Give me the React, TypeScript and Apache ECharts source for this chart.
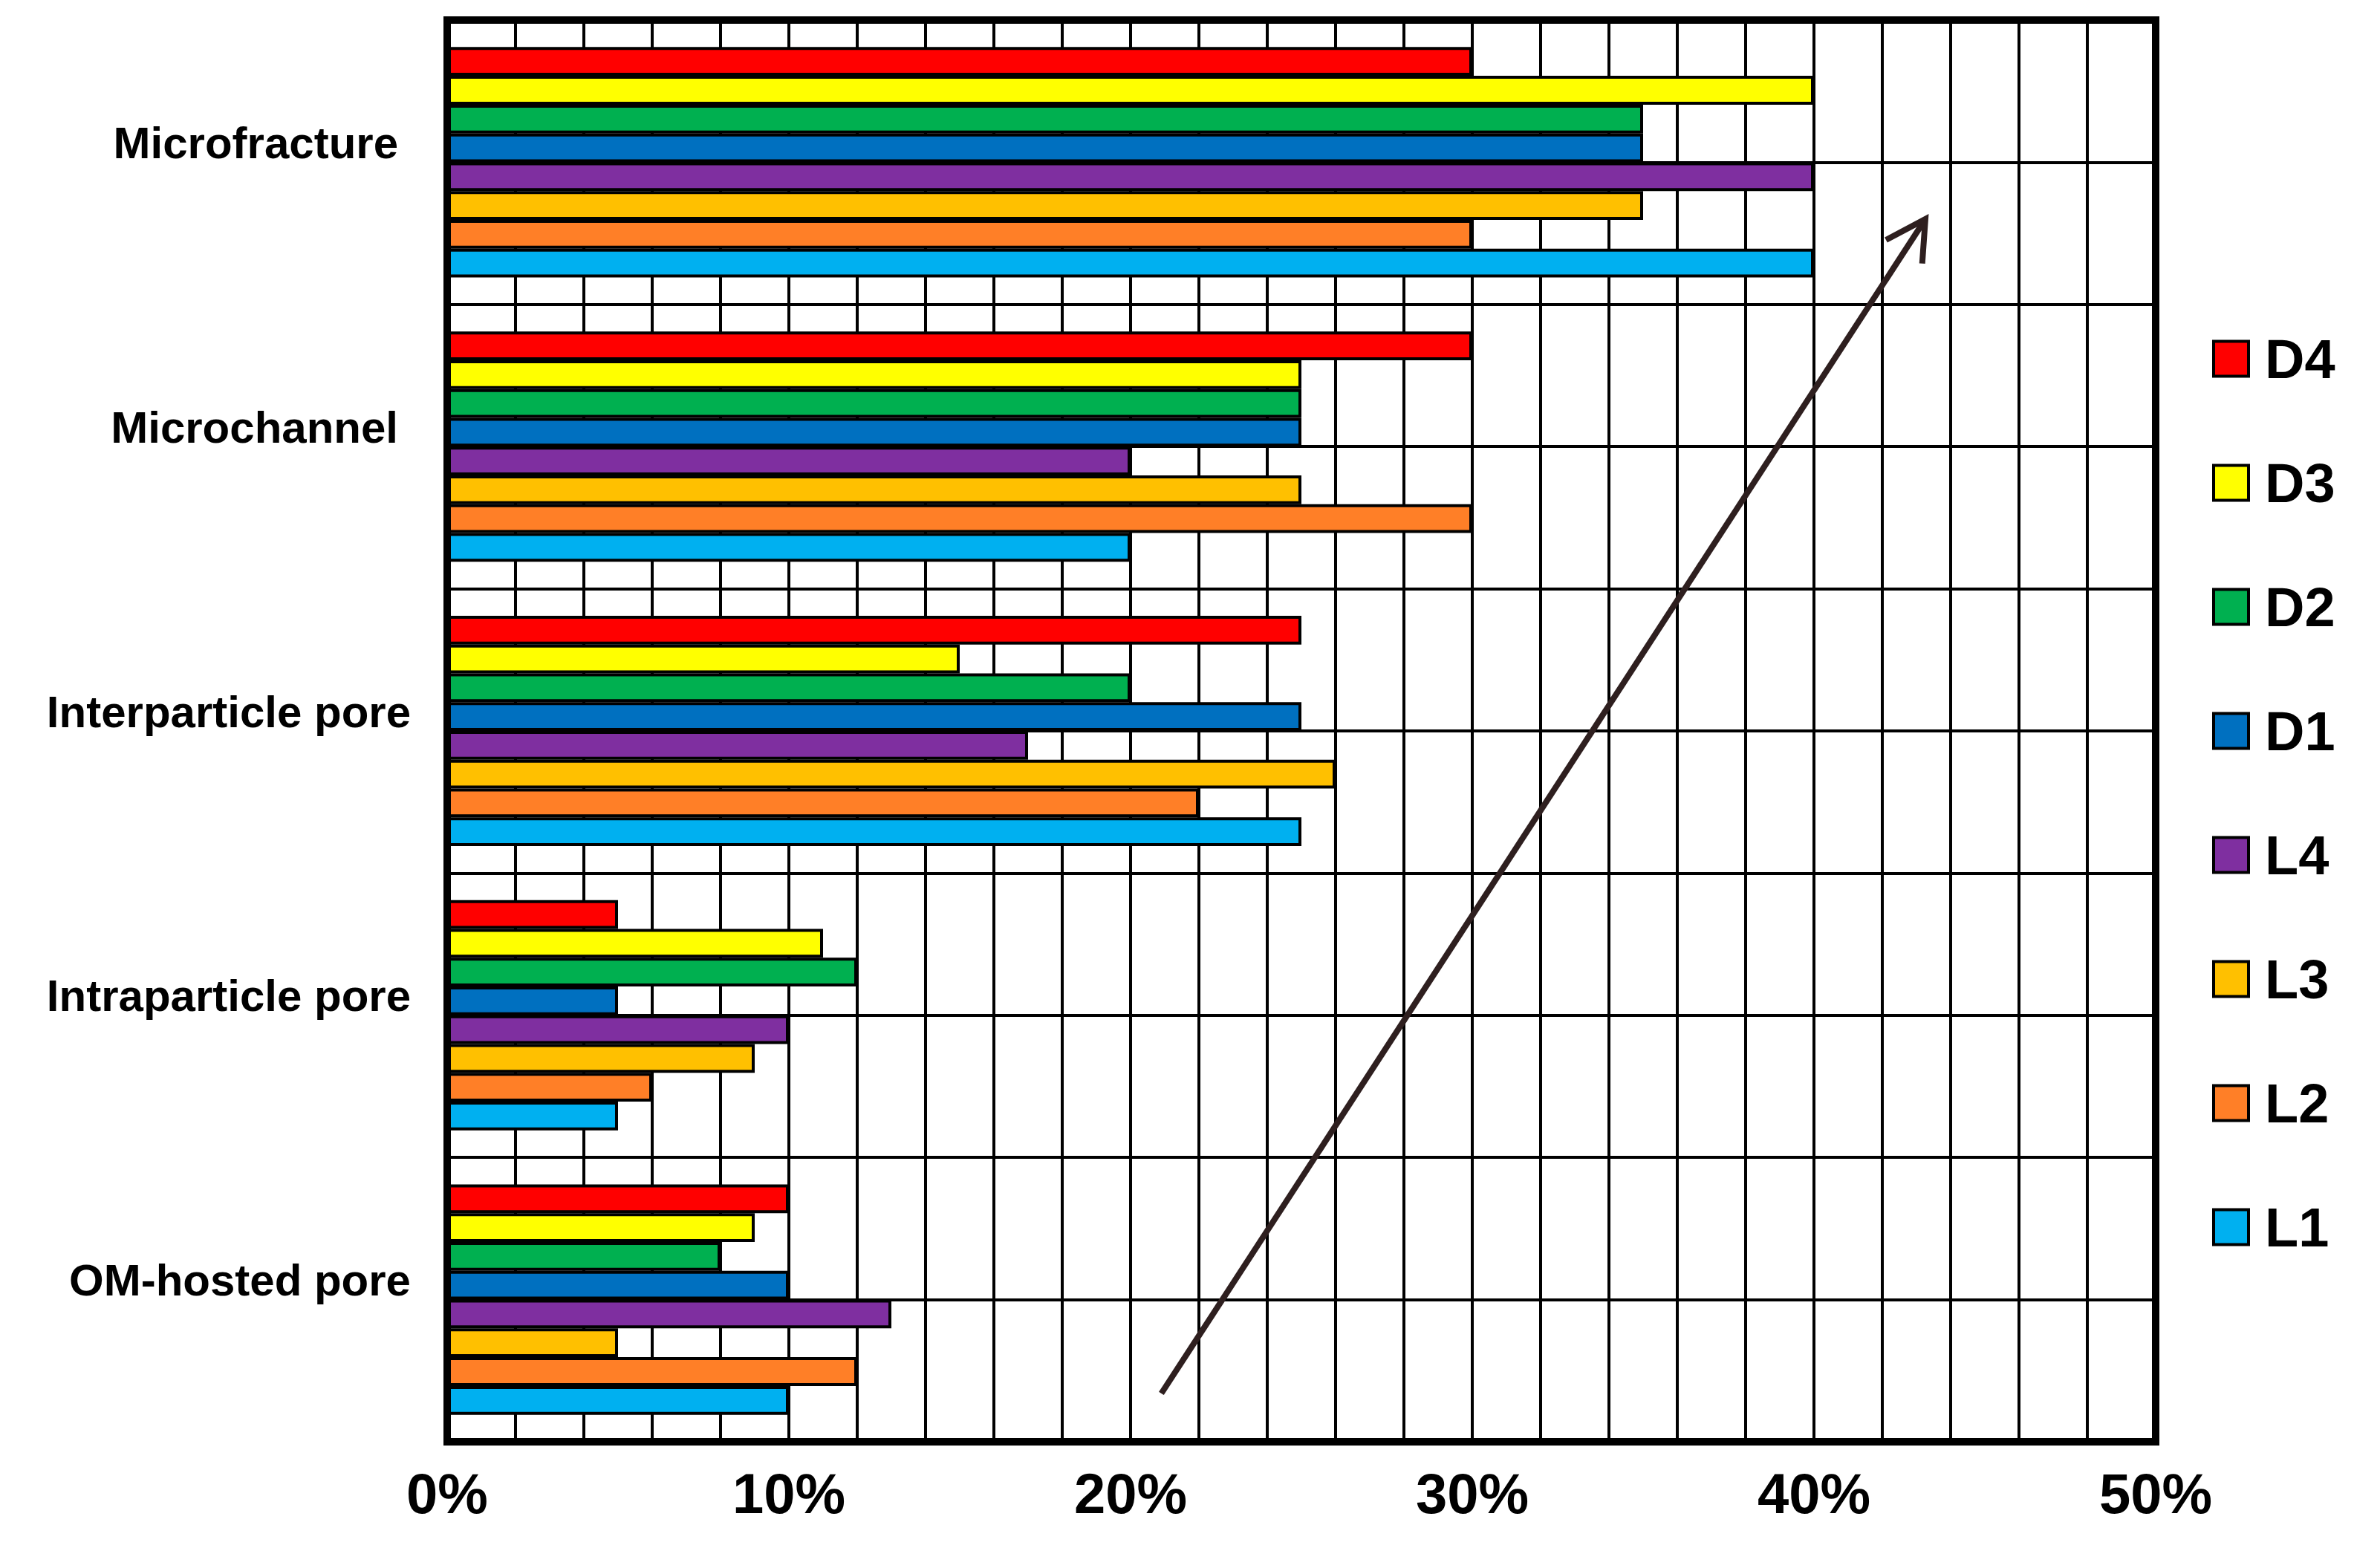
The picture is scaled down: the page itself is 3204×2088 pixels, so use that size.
import React, { useEffect, useRef } from "react";
import * as echarts from "echarts";

const categories = ["Microfracture", "Microchannel", "Interparticle pore", "Intraparticle pore", "OM-hosted pore"];
const seriesNames = ["D4", "D3", "D2", "D1", "L4", "L3", "L2", "L1"];
const seriesColors = ["#FF0000", "#FFFF00", "#00B050", "#0070C0", "#7F2FA0", "#FFC000", "#FF7F27", "#00B0F0"];
const D4 = [30, 30, 25, 5, 10];
const D3 = [40, 25, 15, 11, 9];
const D2 = [35, 25, 20, 12, 8];
const D1 = [35, 25, 25, 5, 10];
const L4 = [40, 20, 17, 10, 13];
const L3 = [35, 25, 26, 9, 5];
const L2 = [30, 30, 22, 6, 12];
const L1 = [40, 20, 25, 5, 10];
const seriesValues = [D4, D3, D2, D1, L4, L3, L2, L1];
const xTickLabels = ["0%", "10%", "20%", "30%", "40%", "50%"];
// trend arrow in data coordinates: [x1 (%), y1 (row units), x2 (%), y2 (row units)]
const arrowData = [[20.9, 0.34, 43.26, 8.6]];
const paddedLabels = ["Microfracture", "Microchannel"];

const FONT = "'Liberation Sans', Arial, Helvetica, sans-serif";

export default function App() {
  const ref = useRef<HTMLDivElement>(null);
  useEffect(() => {
    document.body.style.margin = "0";
    const chart = echarts.init(ref.current!, null, { renderer: "svg" });
    const bars = seriesNames.map((name, i) => ({
      name,
      type: "bar",
      xAxisIndex: 0,
      yAxisIndex: 0,
      data: seriesValues[i],
      barGap: "0%",
      barCategoryGap: "19%",
      itemStyle: { color: seriesColors[i], borderColor: "#000", borderWidth: 4 },
      z: 3,
    }));
    const option: any = {
      animation: false,
      backgroundColor: "#fff",
      grid: {
        left: 602,
        right: 302,
        top: 27,
        bottom: 147,
        show: true,
        borderColor: "#000",
        borderWidth: 10,
        backgroundColor: "transparent",
        z: 4,
      },
      legend: {
        orient: "vertical",
        left: 2978,
        top: 446,
        padding: 0,
        itemWidth: 47,
        itemHeight: 47,
        itemGap: 93,
        icon: "rect",
        data: seriesNames,
        itemStyle: { borderColor: "#000", borderWidth: 4 },
        textStyle: {
          fontFamily: FONT,
          fontWeight: "bold",
          fontSize: 74,
          color: "#000",
          padding: [0, 0, 0, 17],
        },
      },
      xAxis: {
        type: "value",
        min: 0,
        max: 50,
        interval: 2,
        axisLine: { show: false },
        axisTick: { show: false },
        splitLine: { show: true, lineStyle: { color: "#000", width: 4 } },
        axisLabel: {
          margin: 31,
          fontFamily: FONT,
          fontWeight: "bold",
          fontSize: 76,
          color: "#000",
          formatter: (v: number) => {
            const r = Math.round(v);
            return r % 10 === 0 ? xTickLabels[r / 10] : "";
          },
        },
      },
      yAxis: [
        {
          type: "category",
          data: categories,
          inverse: true,
          axisLine: { show: false },
          axisTick: { show: false },
          splitLine: { show: false },
          axisLabel: {
            margin: 49,
            fontFamily: FONT,
            fontWeight: "bold",
            fontSize: 60,
            color: "#000",
            padding: [0, 0, 52, 0],
            formatter: (v: string) => (paddedLabels.includes(v) ? `{p|${v}}` : `{n|${v}}`),
            rich: {
              p: { fontFamily: FONT, fontWeight: "bold", fontSize: 60, color: "#000", padding: [0, 17, 0, 0] },
              n: { fontFamily: FONT, fontWeight: "bold", fontSize: 60, color: "#000" },
            },
          },
        },
        {
          type: "value",
          min: 0,
          max: 10,
          interval: 1,
          position: "right",
          axisLine: { show: false },
          axisTick: { show: false },
          axisLabel: { show: false },
          splitLine: { show: true, lineStyle: { color: "#000", width: 4 } },
        },
      ],
      series: [
        ...bars,
        {
          type: "custom",
          name: "trend",
          xAxisIndex: 0,
          yAxisIndex: 1,
          data: arrowData,
          encode: { x: [0, 2], y: [1, 3] },
          clip: false,
          z: 5,
          silent: true,
          renderItem: (params: any, api: any) => {
            const p1 = api.coord([api.value(0), api.value(1)]);
            const p2 = api.coord([api.value(2), api.value(3)]);
            const ang = Math.atan2(p1[1] - p2[1], p1[0] - p2[0]);
            const len = 60;
            const spread = (29 * Math.PI) / 180;
            const a1 = [p2[0] + len * Math.cos(ang + spread), p2[1] + len * Math.sin(ang + spread)];
            const a2 = [p2[0] + len * Math.cos(ang - spread), p2[1] + len * Math.sin(ang - spread)];
            const style = { stroke: "#2E1F1F", lineWidth: 8, fill: "none", lineCap: "butt", lineJoin: "miter" };
            return {
              type: "group",
              children: [
                { type: "line", shape: { x1: p1[0], y1: p1[1], x2: p2[0], y2: p2[1] }, style },
                { type: "polyline", shape: { points: [a1, p2, a2] }, style },
              ],
            };
          },
        },
      ],
    };
    chart.setOption(option);
    return () => chart.dispose();
  }, []);
  return (
    <div
      ref={ref}
      style={{ position: "fixed", left: 0, top: 0, width: "3204px", height: "2088px", background: "#fff" }}
    />
  );
}
